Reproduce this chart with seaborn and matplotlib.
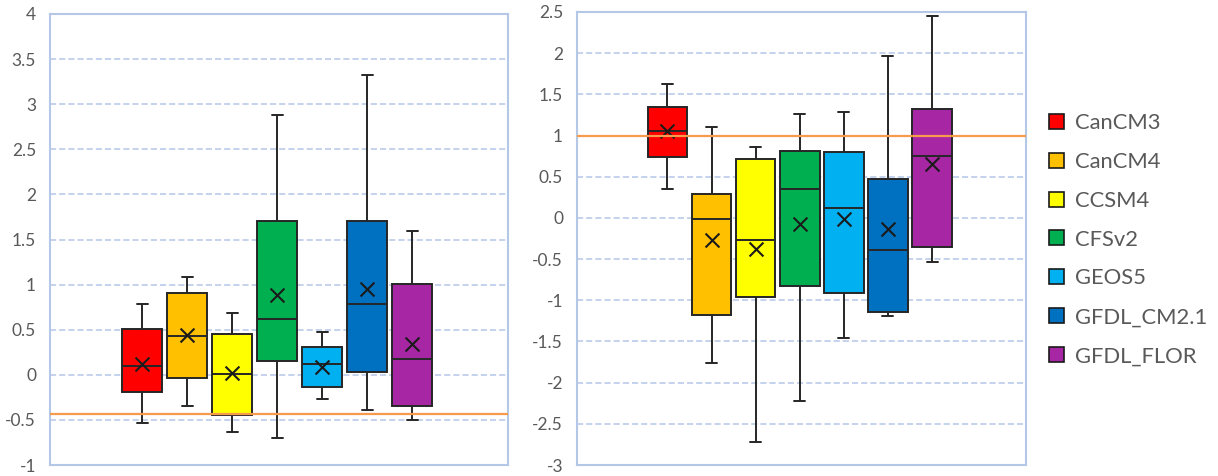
import numpy as np
import pandas as pd
import matplotlib
matplotlib.use("Agg")
import matplotlib.pyplot as plt
import matplotlib.ticker as mticker
from matplotlib.patches import Patch
import seaborn as sns

models = ["CanCM3", "CanCM4", "CCSM4", "CFSv2", "GEOS5", "GFDL_CM2.1", "GFDL_FLOR"]
colors = ["#FF0000", "#FFC000", "#FFFF00", "#00B050", "#00B0F0", "#0070C0", "#A626A4"]

# Left panel (five-number summaries and means)
left_whisk_lo = [-0.53, -0.35, -0.63, -0.70, -0.27, -0.39, -0.50]
left_q1 = [-0.19, -0.035, -0.45, 0.157, -0.13, 0.027, -0.35]
left_median = [0.10, 0.43, 0.013, 0.62, 0.12, 0.78, 0.17]
left_q3 = [0.51, 0.91, 0.45, 1.71, 0.305, 1.70, 1.01]
left_whisk_hi = [0.79, 1.08, 0.68, 2.88, 0.47, 3.32, 1.59]
left_mean = [0.12, 0.44, 0.02, 0.885, 0.09, 0.95, 0.34]
left_ref = -0.44
left_ticks = [-1, -0.5, 0, 0.5, 1, 1.5, 2, 2.5, 3, 3.5, 4]

# Right panel
right_whisk_lo = [0.357, -1.76, -2.72, -2.22, -1.457, -1.194, -0.53]
right_q1 = [0.738, -1.178, -0.955, -0.821, -0.91, -1.145, -0.359]
right_median = [1.058, -0.019, -0.274, 0.357, 0.119, -0.392, 0.754]
right_q3 = [1.346, 0.289, 0.714, 0.815, 0.799, 0.471, 1.317]
right_whisk_hi = [1.62, 1.107, 0.856, 1.261, 1.281, 1.965, 2.447]
right_mean = [1.05, -0.274, -0.376, -0.072, -0.019, -0.137, 0.649]
right_ref = 1.0
right_ticks = [-3, -2.5, -2, -1.5, -1, -0.5, 0, 0.5, 1, 1.5, 2, 2.5]


def summary_frame(lo, q1, med, q3, hi):
    rows = []
    for m, a, b, c, d, e in zip(models, lo, q1, med, q3, hi):
        for v in (a, b, c, d, e):
            rows.append({"model": m, "value": v})
    return pd.DataFrame(rows)


sns.set_style("white")
plt.rcParams["font.family"] = ["Lato", "DejaVu Sans"]

fig = plt.figure(figsize=(12.18, 4.76), dpi=100)
W, H = 1218, 476
ax1 = fig.add_axes([50 / W, 11 / H, 458 / W, 451 / H])
ax2 = fig.add_axes([577 / W, 11 / H, 449 / W, 453 / H])

grid_col = "#B4C7E7"
edge_col = "#262626"
ref_col = "#F79A4C"

panels = [
    (ax1, summary_frame(left_whisk_lo, left_q1, left_median, left_q3, left_whisk_hi),
     left_mean, left_ref, left_ticks),
    (ax2, summary_frame(right_whisk_lo, right_q1, right_median, right_q3, right_whisk_hi),
     right_mean, right_ref, right_ticks),
]

for ax, df, means, ref, ticks in panels:
    sns.boxplot(data=df, x="model", y="value", hue="model", order=models,
                hue_order=models, palette=colors, saturation=1, width=0.9,
                whis=np.inf, linecolor=edge_col, linewidth=1.4, legend=False,
                ax=ax, capwidths=0.25)
    sns.stripplot(x=models, y=means, order=models, jitter=False, marker="x",
                  color="#1a1a1a", size=10, linewidth=1.5, ax=ax, zorder=5)
    ax.axhline(ref, color=ref_col, lw=1.6, zorder=6)
    ax.set_ylim(ticks[0], ticks[-1])
    ax.set_xlim(-2.05, 8.13)
    ax.set_yticks(ticks)
    ax.yaxis.set_major_formatter(mticker.FuncFormatter(lambda v, p: f"{v:g}"))
    ax.set_xticks([])
    ax.set_xlabel("")
    ax.set_ylabel("")
    ax.yaxis.grid(True, linestyle=(0, (4, 2)), color=grid_col, lw=1.1)
    ax.set_axisbelow(True)
    for s in ax.spines.values():
        s.set_color(grid_col)
        s.set_linewidth(1.5)
    ax.tick_params(axis="y", length=0, pad=10, labelsize=12.5, labelcolor="#595959")

handles = [Patch(facecolor=c, edgecolor="#1a1a1a", linewidth=1.2) for c in colors]
fig.legend(handles, models, loc="upper left", bbox_to_anchor=(1049 / W, 1 - 113 / H),
           frameon=False, fontsize=15.8, labelspacing=0.86, handlelength=0.68,
           handleheight=0.68, handletextpad=0.5, borderpad=0, borderaxespad=0,
           labelcolor="#595959")

fig.savefig("out.png", dpi=100)
